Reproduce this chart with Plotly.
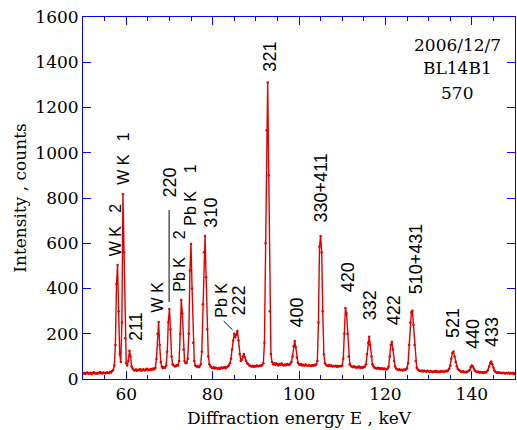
import numpy as np
import plotly.graph_objects as go

# ---------------- data ----------------
E_START = 50.0   # keV, first channel
E_STEP = 0.25    # keV between channels

# counts, one row per keV: values at E, E+0.25, E+0.5, E+0.75
counts_rows = [
    [24, 27, 22, 26],      # 50
    [29, 23, 25, 28],      # 51
    [21, 26, 30, 24],      # 52
    [27, 23, 28, 25],      # 53
    [31, 26, 24, 29],      # 54
    [27, 25, 30, 28],      # 55
    [26, 32, 29, 35],      # 56
    [40, 60, 150, 420],    # 57
    [504, 300, 110, 75],   # 58
    [250, 817, 560, 180],  # 59
    [70, 60, 80, 125],     # 60
    [100, 55, 45, 40],     # 61
    [38, 42, 36, 41],      # 62
    [39, 44, 37, 40],      # 63
    [43, 38, 41, 45],      # 64
    [39, 42, 40, 44],      # 65
    [41, 46, 43, 50],      # 66
    [90, 200, 252, 150],   # 67
    [75, 55, 48, 52],      # 68
    [50, 60, 120, 250],    # 69
    [309, 220, 100, 65],   # 70
    [60, 55, 58, 62],      # 71
    [60, 80, 200, 349],    # 72
    [290, 130, 80, 70],    # 73
    [72, 90, 200, 480],    # 74
    [597, 400, 160, 80],   # 75
    [60, 55, 58, 52],      # 76
    [55, 65, 120, 330],    # 77
    [560, 632, 450, 220],  # 78
    [100, 65, 55, 52],     # 79
    [48, 52, 46, 50],      # 80
    [47, 44, 49, 45],      # 81
    [51, 47, 50, 53],      # 82
    [48, 52, 55, 60],      # 83
    [70, 90, 130, 170],    # 84
    [200, 185, 195, 212],  # 85
    [170, 110, 80, 85],    # 86
    [100, 110, 95, 80],    # 87
    [70, 65, 60, 58],      # 88
    [55, 58, 54, 57],      # 89
    [55, 60, 56, 58],      # 90
    [60, 57, 62, 70],      # 91
    [160, 600, 1100, 1311],  # 92
    [900, 300, 110, 75],   # 93
    [65, 70, 62, 68],      # 94
    [65, 60, 66, 62],      # 95
    [68, 63, 60, 64],      # 96
    [61, 66, 63, 62],      # 97
    [68, 75, 100, 145],    # 98
    [168, 140, 95, 72],    # 99
    [65, 62, 66, 60],      # 100
    [63, 59, 64, 61],      # 101
    [58, 62, 60, 57],      # 102
    [61, 59, 63, 60],      # 103
    [64, 80, 250, 586],    # 104
    [632, 560, 300, 110],  # 105
    [70, 62, 60, 58],      # 106
    [62, 57, 60, 55],      # 107
    [58, 56, 59, 54],      # 108
    [57, 55, 58, 56],      # 109
    [60, 90, 200, 314],    # 110
    [290, 200, 100, 65],   # 111
    [58, 55, 52, 56],      # 112
    [53, 50, 54, 51],      # 113
    [55, 49, 52, 50],      # 114
    [53, 55, 65, 110],     # 115
    [160, 187, 150, 100],  # 116
    [65, 55, 50, 48],      # 117
    [46, 50, 45, 48],      # 118
    [44, 47, 43, 46],      # 119
    [44, 42, 46, 55],      # 120
    [100, 150, 165, 130],  # 121
    [80, 55, 45, 42],      # 122
    [40, 43, 39, 41],      # 123
    [38, 42, 40, 43],      # 124
    [48, 70, 150, 250],    # 125
    [295, 302, 240, 150],  # 126
    [80, 50, 42, 38],      # 127
    [36, 34, 38, 33],      # 128
    [36, 35, 32, 37],      # 129
    [34, 31, 35, 33],      # 130
    [30, 34, 32, 36],      # 131
    [31, 33, 30, 34],      # 132
    [32, 35, 31, 33],      # 133
    [36, 34, 38, 45],      # 134
    [60, 90, 115, 121],    # 135
    [100, 75, 55, 45],     # 136
    [40, 36, 33, 31],      # 137
    [34, 30, 32, 29],      # 138
    [33, 35, 40, 52],      # 139
    [60, 55, 45, 36],      # 140
    [33, 30, 32, 29],      # 141
    [31, 28, 30, 27],      # 142
    [31, 29, 33, 40],      # 143
    [55, 70, 77, 65],      # 144
    [50, 38, 31, 28],      # 145
    [30, 26, 29, 27],      # 146
    [25, 28, 26, 24],      # 147
    [27, 25, 28, 23],      # 148
    [26, 24, 27, 22],      # 149
    [25],                  # 150
]

peak_labels = ["W K\u00a0\u00a0\u00a02", "W K\u00a0\u00a0\u00a01", "211", "W K", "220",
               "Pb K\u00a0\u00a0\u00a0\u00a02", "Pb K\u00a0\u00a0\u00a0\u00a01", "310", "Pb K", "222",
               "321", "400", "330+411", "420", "332", "422", "510+431", "521", "440", "433"]

info_lines = ["2006/12/7", "BL14B1", "570"]

x_title = "Diffraction energy E , keV"
y_title = "Intensity , counts"

# ---------------- build ----------------
counts = [c for row in counts_rows for c in row]
energy = E_START + E_STEP * np.arange(len(counts))

RED = "#e00000"
BLUE = "#0000ff"
SERIF = "DejaVu Serif"
SANS = "Liberation Sans"

fig = go.Figure()
fig.add_trace(go.Scatter(
    x=energy, y=counts, mode="lines+markers",
    line=dict(color=RED, width=1.4),
    marker=dict(color=RED, size=2.5),
    showlegend=False, hoverinfo="x+y",
))

label_pos = [(57.6, 661), (59.47, 977), (62.24, 234), (67.2, 362), (70.09, 868),
             (72.4, 522), (74.7, 813), (79.56, 734), (81.87, 349), (86.03, 345),
             (93.19, 1423), (99.65, 296), (105.2, 844), (111.43, 451), (116.51, 327),
             (122.06, 305), (127.14, 530), (135.68, 248), (140.3, 199), (144.69, 208)]

for txt, (lx, ly) in zip(peak_labels, label_pos):
    size = 16 if "K" in txt else 18
    fig.add_annotation(x=lx, y=ly, xref="x", yref="y", text=txt, showarrow=False,
                       textangle=-90, xanchor="center", yanchor="middle",
                       font=dict(family=SANS, size=size, color="black"))

for txt, ly in zip(info_lines, [1476, 1375, 1264]):
    fig.add_annotation(x=136.6, y=ly, xref="x", yref="y", text=txt,
                       showarrow=False, xanchor="center", yanchor="middle",
                       font=dict(family=SERIF, size=17, color="black"))

fig.add_shape(type="line", xref="x", yref="y", x0=69.93, x1=69.93, y0=747, y1=340,
              line=dict(color="black", width=1))
fig.add_shape(type="line", xref="x", yref="y", x0=82.56, x1=84.64, y0=256, y1=217,
              line=dict(color="black", width=1))

axis_common = dict(
    showline=True, linecolor=BLUE, linewidth=1, mirror="allticks",
    ticks="inside", tickcolor=BLUE, tickwidth=1, ticklen=8,
    showgrid=False, zeroline=False, automargin=True,
    tickfont=dict(family=SERIF, size=17, color="black"),
)

fig.update_xaxes(
    range=[50, 150], tick0=0, dtick=20,
    minor=dict(dtick=5, tick0=0, ticks="inside", ticklen=4, tickcolor=BLUE, showgrid=False),
    title=dict(text=x_title, font=dict(family=SERIF, size=17, color="black"), standoff=8),
    **axis_common,
)
fig.update_yaxes(
    range=[0, 1600], tick0=0, dtick=200,
    title=dict(text=y_title, font=dict(family=SERIF, size=17, color="black"), standoff=4),
    **axis_common,
)

fig.update_layout(
    width=517, height=430,
    margin=dict(l=83, r=2, t=17, b=51, autoexpand=False),
    plot_bgcolor="white", paper_bgcolor="white",
)

fig.write_html("out.html")
